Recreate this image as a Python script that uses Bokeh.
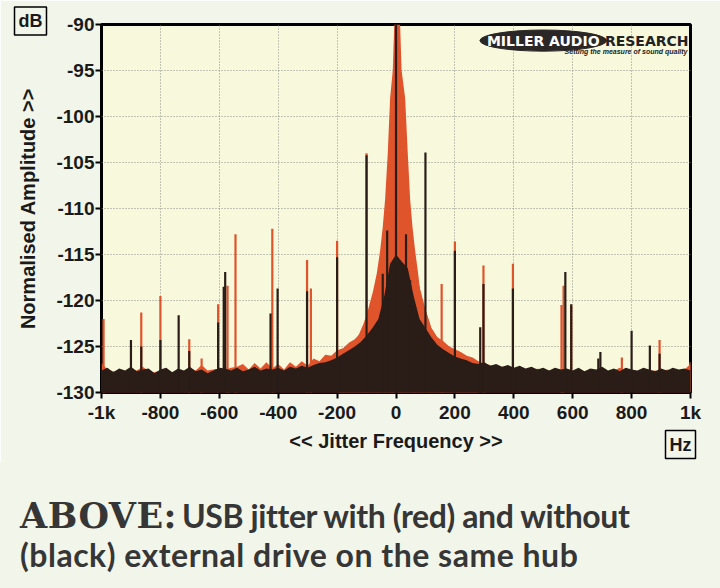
from bokeh.plotting import figure
from bokeh.models import FixedTicker, Label, Range1d, Title, Div
from bokeh.layouts import column
from bokeh.embed import file_html
from bokeh.resources import INLINE

# ---------------- data ----------------
FREQ_GRID = list(range(-1000, 1001, 20))  # Hz

BLACK_FLOOR = [
    -127.6, -127.3, -127.8, -127.4, -127.6, -127.2, -127.7, -127.5, -127.4, -127.9,
    -127.5, -127.3, -127.8, -127.4, -127.6, -127.2, -127.7, -127.5, -127.9, -127.6,
    -127.3, -127.4, -127.6, -127.3, -127.7, -127.5, -127.2, -127.6, -127.4, -127.5,
    -127.3, -127.6, -127.2, -127.4, -127.1, -127.3, -127.0, -126.8, -126.7, -126.5,
    -126.2, -125.8, -125.4, -125.0, -124.5, -123.8, -123.0, -122.0, -119.5, -116.0, -115.0,
    -115.8, -116.5, -119.5, -122.0, -123.0, -124.0, -124.8, -125.3, -125.7, -126.1,
    -126.3, -126.5, -126.8, -126.9, -126.7, -127.1, -126.9, -127.2, -127.0, -127.3,
    -127.1, -127.4, -127.2, -127.5, -127.3, -127.6, -127.3, -127.5, -127.4, -127.6,
    -127.3, -127.7, -127.4, -127.5, -127.2, -127.6, -127.4, -127.7, -127.3, -127.5,
    -127.6, -127.3, -127.5, -127.7, -127.4, -127.6, -127.3, -127.5, -127.4, -127.6,
]

RED_FLOOR = [
    -126.8, -127.5, -127.7, -127.6, -127.8, -127.5, -127.6, -127.2, -127.7, -127.8,
    -127.6, -127.5, -127.8, -127.6, -127.7, -127.4, -127.6, -127.0, -127.6, -127.5,
    -127.4, -127.5, -127.3, -127.2, -126.9, -127.5, -126.8, -127.4, -126.7, -127.4,
    -126.9, -127.5, -126.7, -127.2, -126.6, -127.1, -126.3, -126.6, -125.9, -126.0,
    -125.4, -125.2, -124.6, -124.2, -123.5, -122.0, -120.5, -118.0, -115.0, -110.0, -105.0,
    -110.0, -114.0, -116.5, -118.5, -121.0, -123.0, -124.0, -124.4, -125.0, -125.3,
    -125.6, -126.0, -126.2, -126.6, -126.9, -127.0, -127.3, -127.2, -127.5, -127.4,
    -127.6, -127.5, -127.8, -127.4, -127.7, -127.6, -127.5, -127.8, -127.6, -127.7,
    -127.5, -127.8, -127.6, -127.7, -127.4, -127.8, -127.6, -127.3, -127.7, -127.6,
    -127.8, -127.5, -127.7, -127.6, -127.8, -127.5, -127.7, -127.6, -127.5, -126.9,
]

RED_PEAK_HZ = [-200, -170, -150, -130, -110, -95, -78, -65, -54, -45, -37, -28, -20, -11, -6,
               4, 14, 19, 31, 40, 48, 56, 65, 75, 82, 95, 105, 120, 140, 160, 180, 200, 225, 250, 280]
RED_PEAK_DB = [-126.3, -125.5, -124.8, -124.0, -122.5, -121.0, -119.0, -117.0, -114.6, -112.0, -109.0,
               -104.0, -98.0, -95.0, -90.0, -90.0, -90.0, -95.0, -98.0, -104.0, -109.0, -112.0,
               -114.6, -117.0, -119.0, -120.5, -121.5, -123.0, -124.0, -124.5, -125.0, -125.5,
               -125.8, -126.3, -126.7]

RED_SPIKE_HZ = [-993, -865, -800, -702, -660, -604, -572, -545, -420, -302, -289, -200, -100,
                155, 200, 297, 397, 562, 569, 595, 767, 895, 1000]
RED_SPIKE_DB = [-122.0, -121.3, -119.5, -124.2, -126.3, -120.4, -118.4, -112.8, -112.2, -115.6,
                -118.7, -113.5, -104.0, -118.2, -113.6, -116.2, -116.0, -120.5, -118.4, -120.6,
                -126.2, -124.3, -126.7]

BLACK_SPIKE_HZ = [-900, -865, -800, -738, -702, -604, -585, -580, -426, -402, -302, -200, -100,
                  -45, -30, 0, 34, 48, 100, 200, 286, 297, 397, 575, 595, 687, 694, 800, 862, 895]
BLACK_SPIKE_DB = [-124.3, -125.0, -124.3, -121.6, -125.5, -122.4, -118.5, -116.9, -121.4, -118.7,
                  -119.0, -115.3, -104.2, -117.1, -112.4, -90.0, -112.8, -117.8, -103.9, -114.6,
                  -122.9, -118.2, -118.7, -116.9, -120.4, -126.3, -125.6, -123.3, -124.9, -125.8]

Y_TICKS = [-130, -125, -120, -115, -110, -105, -100, -95, -90]
Y_TICK_LABELS = ["-130", "-125", "-120", "-115", "-110", "-105", "-100", "-95", "-90"]
X_TICKS = [-1000, -800, -600, -400, -200, 0, 200, 400, 600, 800, 1000]
X_TICK_LABELS = ["-1k", "-800", "-600", "-400", "-200", "0", "200", "400", "600", "800", "1k"]

CAPTION_LEAD = "ABOVE:"
CAPTION_LINE1 = "USB jitter with (red) and without"
CAPTION_LINE2 = "(black) external drive on the same hub"

Y_MIN, Y_MAX = -130, -90
X_MIN, X_MAX = -1000, 1000

RED = "#e0542c"
BLACK = "#2a1d18"
PAGE_BG = "#f2f5ea"
W = 720
H_CHART, H_CAP = 462, 126
FRAME_L, FRAME_T, FRAME_R, FRAME_B = 101, 24, 690, 392

# ---------------- chart ----------------
p = figure(width=W, height=H_CHART, output_backend="svg", toolbar_location=None,
           x_range=Range1d(X_MIN, X_MAX), y_range=Range1d(Y_MIN, Y_MAX),
           min_border_left=FRAME_L, min_border_right=W - FRAME_R, min_border_top=FRAME_T,
           min_border_bottom=H_CHART - FRAME_B)
p.background_fill_color = "#f7f8dc"
p.border_fill_color = PAGE_BG
p.outline_line_color = "black"
p.outline_line_width = 3

# red trace
p.varea(x=FREQ_GRID, y1=Y_MIN, y2=RED_FLOOR, fill_color=RED)
p.varea(x=RED_PEAK_HZ, y1=Y_MIN, y2=RED_PEAK_DB, fill_color=RED)
p.segment(x0=RED_SPIKE_HZ, y0=[Y_MIN] * len(RED_SPIKE_HZ), x1=RED_SPIKE_HZ, y1=RED_SPIKE_DB,
          line_color=RED, line_width=2.2)
# black trace
p.varea(x=FREQ_GRID, y1=Y_MIN, y2=BLACK_FLOOR, fill_color=BLACK)
p.segment(x0=BLACK_SPIKE_HZ, y0=[Y_MIN] * len(BLACK_SPIKE_HZ), x1=BLACK_SPIKE_HZ, y1=BLACK_SPIKE_DB,
          line_color=BLACK, line_width=2.2)

# axes
p.xaxis.ticker = FixedTicker(ticks=X_TICKS)
p.xaxis.major_label_overrides = dict(zip(X_TICKS, X_TICK_LABELS))
p.yaxis.ticker = FixedTicker(ticks=Y_TICKS)
p.yaxis.major_label_overrides = dict(zip(Y_TICKS, Y_TICK_LABELS))
for ax in (p.xaxis[0], p.yaxis[0]):
    ax.axis_line_color = None
    ax.major_tick_line_color = "black"
    ax.major_tick_line_width = 2
    ax.major_tick_out = 6
    ax.major_tick_in = 0
    ax.minor_tick_line_color = None
    ax.major_label_text_font = "Liberation Sans"
    ax.major_label_text_font_style = "bold"
    ax.major_label_text_font_size = "19px"
    ax.major_label_text_color = "#1a1a1a"
    ax.axis_label_text_font = "Liberation Sans"
    ax.axis_label_text_font_style = "bold"
    ax.axis_label_text_font_size = "20px"
    ax.axis_label_text_color = "#1a1a1a"
p.xaxis.major_label_standoff = 3
p.yaxis.major_label_standoff = 1
p.xaxis.axis_label = "<< Jitter Frequency >>"
p.yaxis.axis_label = "Normalised Amplitude >>"
p.xaxis.axis_label_standoff = 4
p.yaxis.axis_label_standoff = 14

p.xgrid.ticker = FixedTicker(ticks=X_TICKS)
p.ygrid.ticker = FixedTicker(ticks=Y_TICKS)
for g in (p.xgrid[0], p.ygrid[0]):
    g.grid_line_color = "#8f8f86"
    g.grid_line_dash = "1 2"
    g.grid_line_width = 1

# unit boxes as titles (outside the frame)
p.title.text = "dB"
p.title.align = "left"
p.title.offset = -87
p.title.vertical_align = "bottom"
p.title.standoff = -21
p.title.text_font = "Liberation Sans"
p.title.text_font_style = "bold"
p.title.text_font_size = "18px"
p.title.text_color = "#1a1a1a"
p.title.border_line_color = "black"
p.title.border_line_width = 1.5
p.title.background_fill_color = PAGE_BG
p.title.padding = 4

hz = Title(text="Hz", align="right", offset=-5, vertical_align="top", standoff=-48,
           text_font="Liberation Sans", text_font_style="bold", text_font_size="18px",
           text_color="#1a1a1a", border_line_color="black", border_line_width=1.5,
           background_fill_color=PAGE_BG, padding=4)
p.add_layout(hz, "below")

# logo (inside the plot area)
p.ellipse(x=[500], y=[-91.75], width=430, height=2.3, fill_color="#2b2727", line_color="#2b2727")
p.add_layout(Label(x=500, y=-91.75, text="MILLER AUDIO", text_color="white", text_font="DejaVu Sans",
                   text_font_style="bold", text_font_size="14px", text_align="center",
                   text_baseline="middle"))
p.add_layout(Label(x=1000, y=-91.75, x_offset=-2, text="RESEARCH", text_color="#222222",
                   text_font="DejaVu Sans", text_font_style="bold", text_font_size="14px",
                   text_align="right", text_baseline="middle"))
p.add_layout(Label(x=1000, y=-92.9, x_offset=-3, text="Setting the measure of sound quality",
                   text_color="#222222", text_font="Liberation Sans", text_font_style="bold italic",
                   text_font_size="7px", text_align="right", text_baseline="middle"))

# ---------------- caption ----------------
line_style = "position:absolute;left:20px;white-space:nowrap;line-height:32px;color:#363636;"
lato1 = "font-family:Lato,sans-serif;font-weight:bold;font-size:32px;letter-spacing:-0.4px;"
lato2 = "font-family:Lato,sans-serif;font-weight:bold;font-size:32px;letter-spacing:0.5px;"
serif = ("display:inline-block;width:162px;font-family:'DejaVu Serif',serif;font-weight:bold;"
         "font-size:35px;letter-spacing:0.5px;")
caption_html = (
    f'<div style="position:relative;width:{W}px;height:{H_CAP}px;">'
    f'<div style="{line_style}top:38px;"><span style="{serif}">{CAPTION_LEAD}</span>'
    f'<span style="{lato1}">{CAPTION_LINE1}</span></div>'
    f'<div style="{line_style}top:77px;"><span style="{lato2}">{CAPTION_LINE2}</span></div>'
    '</div>'
)
cap = Div(text=caption_html, width=W, height=H_CAP,
          styles={"background-color": PAGE_BG, "margin": "0px", "padding": "0px"})

open("out.html", "w").write(file_html(column(p, cap), INLINE))
